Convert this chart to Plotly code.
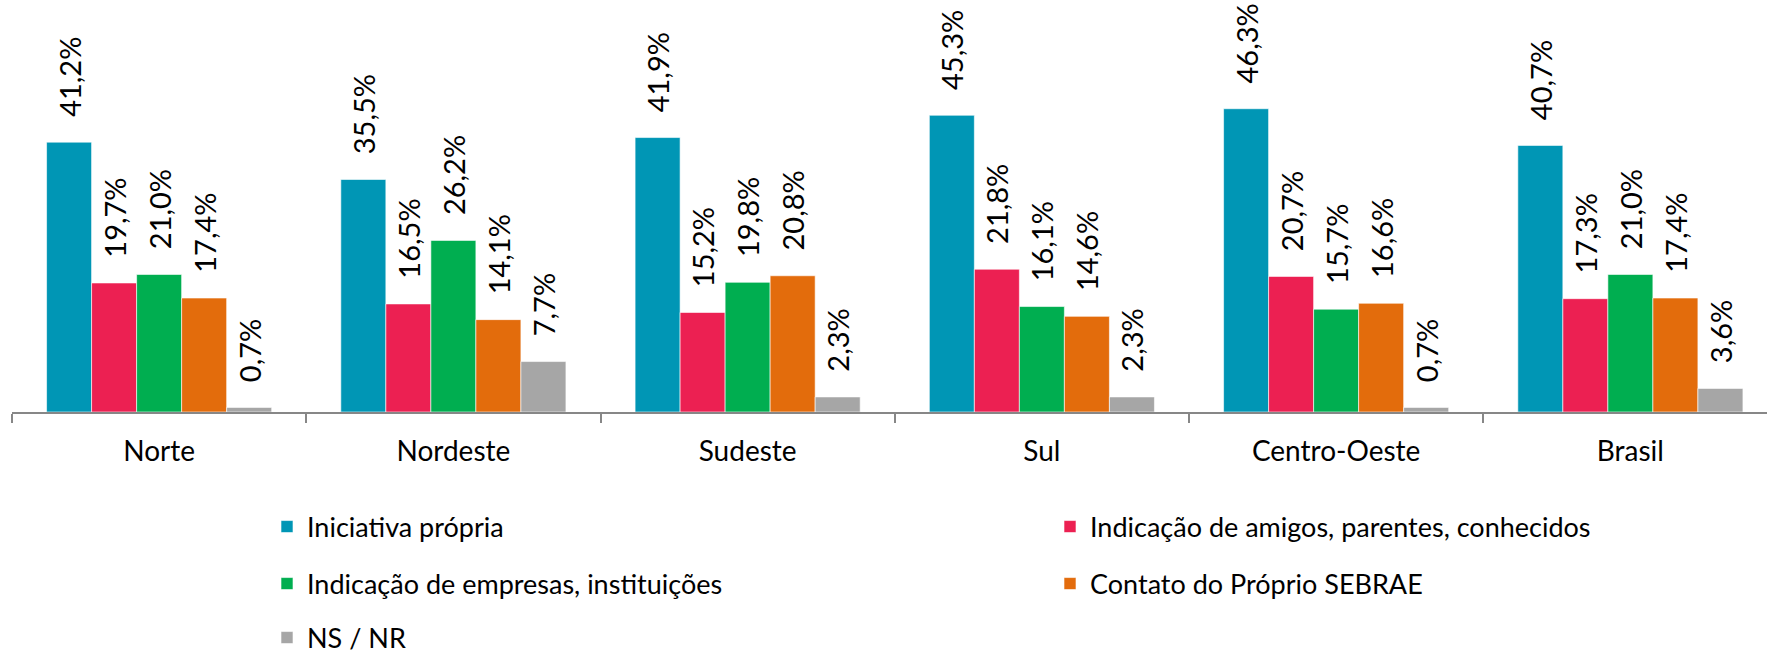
import plotly.graph_objects as go

regioes = ["Norte", "Nordeste", "Sudeste", "Sul", "Centro-Oeste", "Brasil"]

iniciativa = [41.2, 35.5, 41.9, 45.3, 46.3, 40.7]
amigos = [19.7, 16.5, 15.2, 21.8, 20.7, 17.3]
empresas = [21.0, 26.2, 19.8, 16.1, 15.7, 21.0]
sebrae = [17.4, 14.1, 20.8, 14.6, 16.6, 17.4]
nsnr = [0.7, 7.7, 2.3, 2.3, 0.7, 3.6]

nomes = ["Iniciativa própria",
         "Indicação de amigos, parentes, conhecidos",
         "Indicação de empresas, instituições",
         "Contato do Próprio SEBRAE",
         "NS / NR"]
cores = ["#0096B5", "#EC2052", "#00AE50", "#E36C0C", "#A6A6A6"]
series = [iniciativa, amigos, empresas, sebrae, nsnr]

W, H = 1767, 654
ml, mt, mb = 12, 0, 242
plot_h = H - mt - mb
plot_w = W - ml

# legend positions (pixels of the text row center / left edge)
leg_pos = [(267, 527), (1050, 527), (267, 584), (1050, 584), (267, 638)]

fig = go.Figure()
for i, (nome, vals, cor) in enumerate(zip(nomes, series, cores)):
    txt = ["\u00a0\u00a0\u00a0" + ("%.1f%%" % v).replace(".", ",") for v in vals]
    fig.add_trace(go.Bar(
        x=regioes, y=vals, name=nome,
        marker=dict(color=cor, line=dict(color="white", width=0.6)),
        text=txt, textposition="outside", textangle=-90,
        constraintext="none", cliponaxis=False,
        textfont=dict(family="Lato", size=29, color="#000000"),
        legend="legend" if i == 0 else "legend%d" % (i + 1),
        showlegend=True,
    ))

lay = dict(
    width=W, height=H,
    margin=dict(l=ml, r=0, t=mt, b=mb, autoexpand=False),
    showlegend=True,
    plot_bgcolor="white", paper_bgcolor="white",
    barmode="group", bargap=0.235, bargroupgap=0,
    font=dict(family="Lato", color="#000000"),
    xaxis=dict(
        range=[-0.5, 5.5 - 10.5 / 294.2],
        showline=True, linecolor="#878787", linewidth=2,
        ticks="outside", tickson="boundaries", ticklen=9,
        tickcolor="#878787", tickwidth=2,
        tickfont=dict(family="Lato", size=28, color="#000000"),
        ticklabelstandoff=13, automargin=False,
        showgrid=False,
    ),
    yaxis=dict(range=[0, 62.9], visible=False, showgrid=False, zeroline=False),
)
for i, (px_x, px_y) in enumerate(leg_pos):
    key = "legend" if i == 0 else "legend%d" % (i + 1)
    lay[key] = dict(
        x=(px_x - ml) / plot_w, y=(plot_h + mt - px_y) / plot_h,
        xanchor="left", yanchor="middle",
        font=dict(family="Lato", size=27, color="#000000"),
        bgcolor="rgba(0,0,0,0)", visible=True,
    )
fig.update_layout(**lay)

# page body has a default 8px margin; remove it so the figure sits at 0,0
fig.write_html("out.html", config={"displayModeBar": False},
               post_script="document.body.style.margin='0px';")
